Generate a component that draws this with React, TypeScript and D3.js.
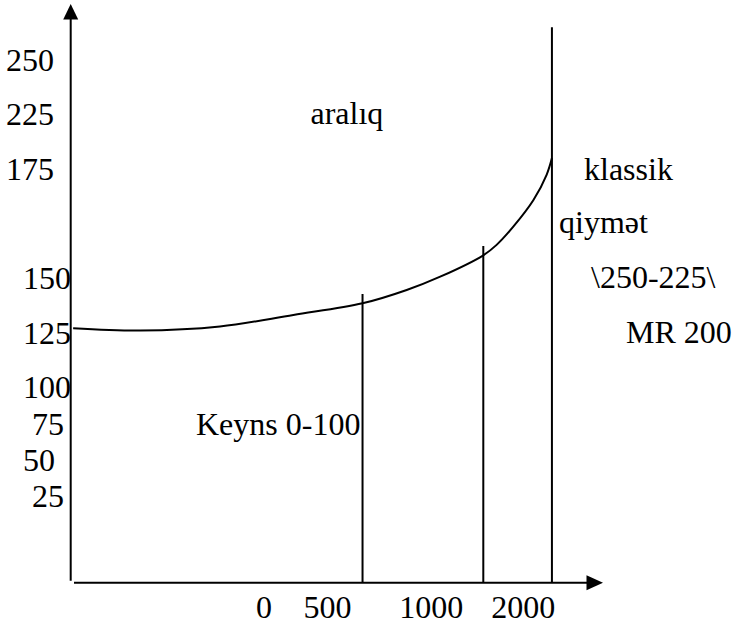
import React from "react";
import * as d3 from "d3";

// Y-axis labels and their levels (chart units, 0..100 on the axis)
const yLabels = ["250", "225", "175", "150", "125", "100", "75", "50", "25"];
const yLevels = [88.5, 79.1, 69.6, 50.7, 41.3, 31.9, 25.6, 19.4, 13.2];

// X-axis labels and their positions (chart units)
const xLabels = ["0", "500", "1000", "2000"];
const xLevels = [36.3, 48.2, 67.7, 85.0];

// Supply curve (output, price level) in chart units
const curveX = [0.4, 13.0, 28.0, 41.8, 54.8, 63.1, 69.4, 77.5, 80.0, 83.1, 86.9, 89.4, 90.4];
const curveY = [44.0, 43.6, 44.3, 46.3, 48.3, 50.6, 52.9, 56.6, 58.4, 61.5, 66.1, 70.5, 73.4];

// Vertical boundary lines: x positions and top levels
const boundaryX = [54.8, 77.5, 90.4];
const boundaryTop = [49.9, 58.2, 96.0];

const W = 747;
const H = 621;
const FONT = "Liberation Serif, Times New Roman, DejaVu Serif, serif";

export default function App() {
  const x = d3.scaleLinear().domain([0, 100]).range([71, 603]);
  const y = d3.scaleLinear().domain([0, 100]).range([583, 4]);

  const pts: [number, number][] = curveX.map((v, i) => [v, curveY[i]]);
  const line = d3
    .line<[number, number]>()
    .x((d) => x(d[0]))
    .y((d) => y(d[1]))
    .curve(d3.curveCatmullRom.alpha(0.5));

  const axisX = x(0) - 0.3;
  const axisY = y(0) - 0.3;

  const yAnchorEnd = [false, false, false, true, true, true, true, true, true];
  const yEndX = [6, 6, 6, 71, 71, 71, 64, 55, 64];

  const tp = { fontFamily: FONT, fontSize: 32, fill: "#000" };

  return (
    <svg
      width={W}
      height={H}
      fontFamily={FONT}
      style={{ position: "absolute", left: 0, top: 0, background: "#fff" }}
    >
      <rect x={0} y={0} width={W} height={H} fill="#fff" />
      {/* Y axis */}
      <line x1={axisX} x2={axisX} y1={19} y2={580.7} stroke="#000" strokeWidth={2} />
      <path
        d={`M${axisX},${y(100)} L${axisX - 7.5},${19.5} L${axisX + 7.5},${19.5} Z`}
        fill="#000"
      />
      {/* X axis */}
      <line x1={74} x2={588} y1={axisY} y2={axisY} stroke="#000" strokeWidth={2} />
      <path
        d={`M${x(100)},${axisY} L${586.5},${axisY - 7.5} L${586.5},${axisY + 7.5} Z`}
        fill="#000"
      />

      {/* Boundary lines */}
      {boundaryX.map((bx, i) => (
        <line
          key={"b" + i}
          x1={x(bx)}
          x2={x(bx)}
          y1={y(boundaryTop[i])}
          y2={axisY}
          stroke="#000"
          strokeWidth={2}
        />
      ))}

      {/* Curve */}
      <path d={line(pts) || ""} fill="none" stroke="#000" strokeWidth={2} />

      {/* Y labels */}
      {yLabels.map((t, i) => (
        <text
          key={"y" + i}
          x={yEndX[i]}
          y={y(yLevels[i])}
          textAnchor={yAnchorEnd[i] ? "end" : "start"}
          {...tp}
        >
          {t}
        </text>
      ))}

      {/* X labels */}
      {xLabels.map((t, i) => (
        <text key={"x" + i} x={x(xLevels[i])} y={617.5} textAnchor="middle" {...tp}>
          {t}
        </text>
      ))}

      {/* Annotations */}
      <text x={310.5} y={124.3} {...tp}>aralıq</text>
      <text x={196} y={435} {...tp}>Keyns 0-100</text>
      <text x={584} y={180} {...tp}>klassik</text>
      <text x={559} y={233.3} {...tp}>qiymət</text>
      <text x={591} y={288.3} {...tp}>\250-225\</text>
      <text x={626} y={343.3} {...tp}>MR 200</text>
    </svg>
  );
}
